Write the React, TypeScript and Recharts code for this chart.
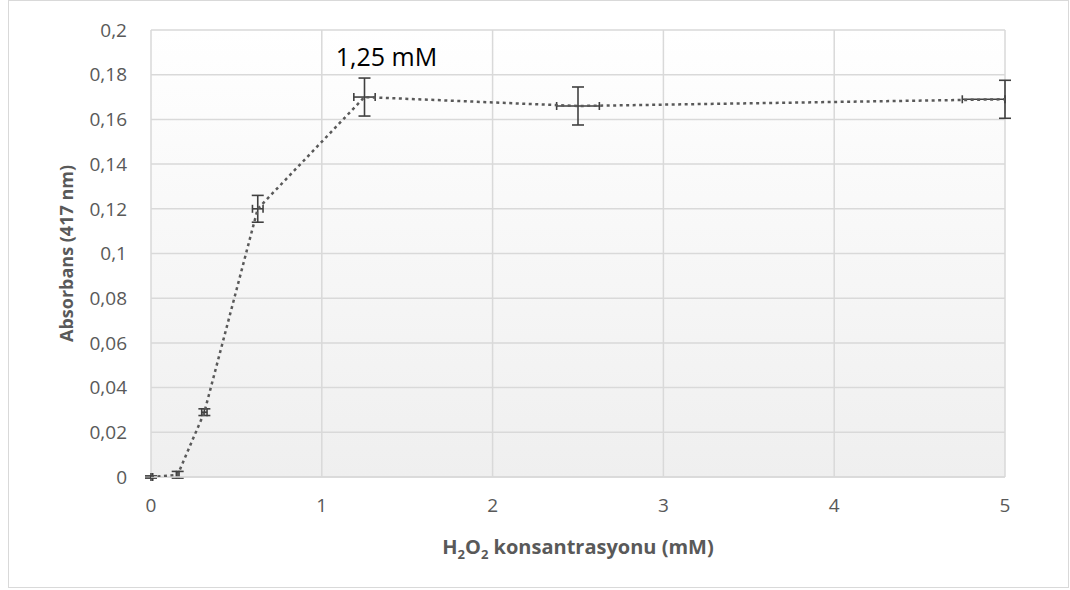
import React from 'react';
import {
  ScatterChart,
  Scatter,
  XAxis,
  YAxis,
  CartesianGrid,
  ErrorBar,
  ReferenceDot,
} from 'recharts';

// H2O2 dilution series (mM) and absorbance at 417 nm
const concentrations = [0, 0.15625, 0.3125, 0.625, 1.25, 2.5, 5];
const absorbance = [0, 0.001, 0.029, 0.12, 0.17, 0.166, 0.169];
const absErrors = [0.0005, 0.0015, 0.0015, 0.006, 0.0085, 0.0085, 0.0085];
// x error as [minus, plus]; the last one is cut at the plot edge in the original
const concErrors: [number, number][] = [
  [0, 0.01],
  [0.0078, 0.0078],
  [0.0156, 0.0156],
  [0.031, 0.031],
  [0.0625, 0.0625],
  [0.125, 0.125],
  [0.25, 0],
];

const xTicks = [0, 1, 2, 3, 4, 5];
const yTicks = [0, 0.02, 0.04, 0.06, 0.08, 0.1, 0.12, 0.14, 0.16, 0.18, 0.2];

const peakLabel = '1,25 mM';
const peakX = 1.25;
const peakY = 0.17;

const data = concentrations.map((c, i) => ({
  x: c,
  y: absorbance[i],
  ey: absErrors[i],
  ex: concErrors[i],
}));

const FONT = '"Open Sans", sans-serif';
const TEXT = '#595959';
const fmt = (v: number) => String(Number(v.toFixed(2))).replace('.', ',');

const XTitle = (props: any) => {
  const { viewBox } = props;
  const cx = viewBox.x + viewBox.width / 2;
  const cy = viewBox.y + 77;
  return (
    <text x={cx} y={cy} textAnchor="middle" fill={TEXT} fontFamily={FONT} fontSize={20} fontWeight={700}>
      H<tspan fontSize={13} dy={5}>2</tspan>
      <tspan dy={-5}>O</tspan>
      <tspan fontSize={13} dy={5}>2</tspan>
      <tspan dy={-5}> konsantrasyonu (mM)</tspan>
    </text>
  );
};

const PeakLabel = (props: any) => {
  const { viewBox } = props;
  return (
    <text x={viewBox.x + 22} y={viewBox.y - 31} textAnchor="middle" fill="#000" fontFamily={FONT} fontSize={25}>
      {peakLabel}
    </text>
  );
};

export default function App() {
  return (
    <div
      style={{
        position: 'absolute',
        left: 8,
        top: 0,
        width: 1061,
        height: 588,
        border: '1px solid #d9d9d9',
        boxSizing: 'border-box',
        background: '#fff',
      }}
    >
      <svg width={0} height={0} style={{ position: 'absolute' }}>
        <defs>
          <linearGradient id="plotBg" x1="0" y1="0" x2="0" y2="1">
            <stop offset="0%" stopColor="#ffffff" />
            <stop offset="100%" stopColor="#efefef" />
          </linearGradient>
        </defs>
      </svg>
      <ScatterChart width={1059} height={586} margin={{ top: 29, right: 63, bottom: 0, left: 1 }}>
        <CartesianGrid stroke="#d9d9d9" strokeWidth={1.5} fill="url(#plotBg)" />
        <XAxis
          type="number"
          dataKey="x"
          domain={[0, 5]}
          allowDataOverflow
          ticks={xTicks}
          tickFormatter={fmt}
          height={110}
          tickSize={0}
          tickMargin={22}
          axisLine={{ stroke: '#d9d9d9', strokeWidth: 1.5 }}
          tick={{ fill: TEXT, fontSize: 19, fontFamily: FONT }}
          label={<XTitle />}
        />
        <YAxis
          type="number"
          dataKey="y"
          domain={[0, 0.2]}
          allowDataOverflow
          ticks={yTicks}
          tickFormatter={fmt}
          width={141}
          tickSize={0}
          tickMargin={24}
          axisLine={false}
          tick={{ fill: TEXT, fontSize: 19, fontFamily: FONT }}
          label={{
            value: 'Absorbans (417 nm)',
            angle: -90,
            position: 'insideLeft',
            dx: 52,
            fill: TEXT,
            fontSize: 18,
            fontWeight: 700,
            fontFamily: FONT,
            style: { textAnchor: 'middle' },
          }}
        />
        <Scatter
          data={data}
          isAnimationActive={false}
          line={{ stroke: '#595959', strokeWidth: 2.5, strokeDasharray: '3 3.5' }}
          lineType="joint"
          shape={() => <g />}
        >
          <ErrorBar dataKey="ey" direction="y" width={6} stroke="#404040" strokeWidth={1.6} />
          <ErrorBar dataKey="ex" direction="x" width={4} stroke="#404040" strokeWidth={1.6} />
        </Scatter>
        <ReferenceDot x={peakX} y={peakY} r={0} fill="none" stroke="none" label={<PeakLabel />} />
      </ScatterChart>
    </div>
  );
}
